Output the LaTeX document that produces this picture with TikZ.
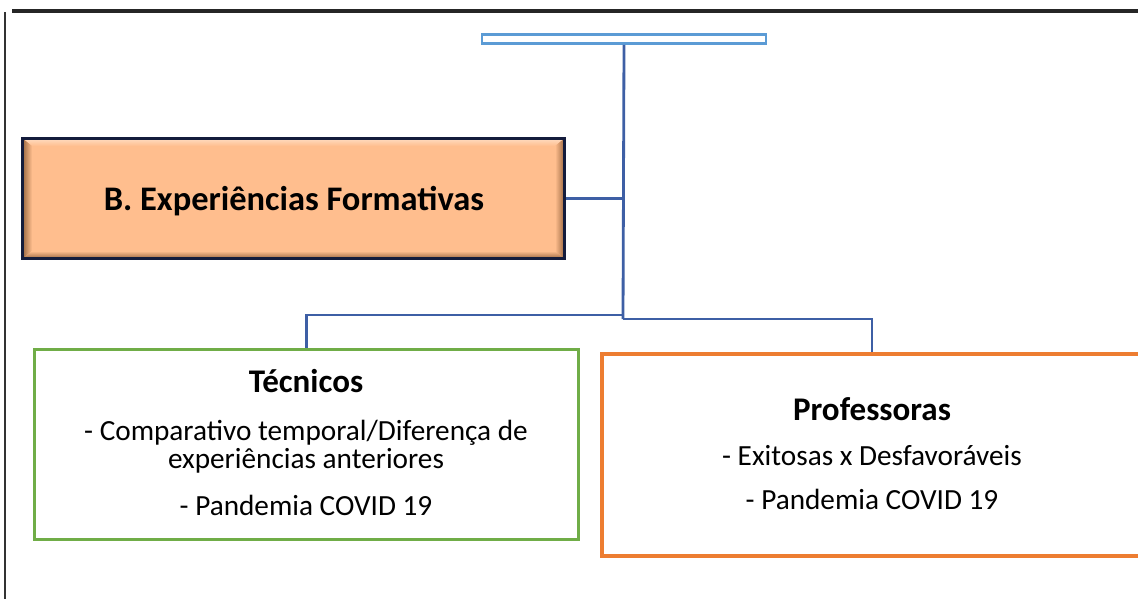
\documentclass[tikz,border=0pt]{standalone}
\usepackage{fontspec}
\setmainfont{Carlito}
\usetikzlibrary{positioning}

\definecolor{linkblue}{RGB}{62,95,165}
\definecolor{topblue}{RGB}{91,155,213}
\definecolor{peach}{RGB}{255,190,142}
\definecolor{peachlight}{RGB}{255,222,196}
\definecolor{bevbrown}{RGB}{150,100,62}
\definecolor{navyedge}{RGB}{20,28,60}
\definecolor{tecgreen}{RGB}{112,173,71}
\definecolor{proforange}{RGB}{237,125,49}

\tikzset{
  conn/.style={draw=linkblue, line width=2pt},
  bodytxt/.style={anchor=base, inner sep=0pt, font=\fontsize{20.8pt}{20pt}\selectfont},
  titletxt/.style={anchor=base, inner sep=0pt, font=\fontsize{23.5pt}{24pt}\selectfont\bfseries},
}

\begin{document}
\begin{tikzpicture}[x=0.025cm, y=-0.025cm]
\useasboundingbox (0,0) rectangle (1138,599);
\begin{scope}
\clip (0,0) rectangle (1138,599);

% page frame
\draw[line width=2.2pt, black!85] (12,11) -- (1138,11);
\draw[line width=0.9pt, black!80] (5,12) -- (5,599);

% beveled heading box
\fill[peach] (22,138) rectangle (565,259);
\shade[top color=peachlight, bottom color=peach] (22,138) -- (565,138) -- (555,146) -- (32,146) -- cycle;
\shade[left color=bevbrown, right color=peach] (22,138) -- (32,146) -- (32,251) -- (22,259) -- cycle;
\shade[left color=peach, right color=bevbrown] (565,138) -- (565,259) -- (555,251) -- (555,146) -- cycle;
\shade[top color=peach, bottom color=bevbrown] (22,259) -- (565,259) -- (555,251) -- (32,251) -- cycle;

% boxes
\node[draw=topblue, line width=2pt, fill=white, minimum width=7.1cm, minimum height=0.22cm, inner sep=0pt] (topbox) at (624,39) {};
\node[draw=navyedge, line width=2.2pt, minimum width=13.55cm, minimum height=3.0cm, inner sep=0pt] (expB) at (293.5,198.5) {};
\node[draw=tecgreen, line width=2pt, minimum width=13.6cm, minimum height=4.75cm, inner sep=0pt] (tec) at (306.5,444.5) {};
\node[draw=proforange, line width=2.6pt, minimum width=13.5cm, minimum height=5.05cm, inner sep=0pt] (prof) at (872,455) {};

% texts
\node[titletxt, font=\fontsize{24.5pt}{25pt}\selectfont\bfseries] (expBtxt) at (294,210) {B. Experiências Formativas};
\node[titletxt] (tecT) at (306,392) {Técnicos};
\node[bodytxt] (tec1) at (306,440) {- Comparativo temporal/Diferença de};
\node[bodytxt] (tec2) at (306,468) {experiências anteriores};
\node[bodytxt] (tec3) at (306,515) {- Pandemia COVID 19};
\node[titletxt] (profT) at (872,420) {Professoras};
\node[bodytxt] (prof1) at (872,465) {- Exitosas x Desfavoráveis};
\node[bodytxt] (prof2) at (872,509) {- Pandemia COVID 19};

% connectors
\coordinate (jB) at (topbox.south |- expB.east);
\coordinate (kL) at (623,315);
\coordinate (kR) at (623,319);
\draw[conn] (topbox.south) -- (kR);
\draw[conn] (expB.east) -- (jB);
\draw[conn] (kL) -| (tec.north);
\draw[conn] (kR) -| (prof.north);
\end{scope}
\end{tikzpicture}
\end{document}
